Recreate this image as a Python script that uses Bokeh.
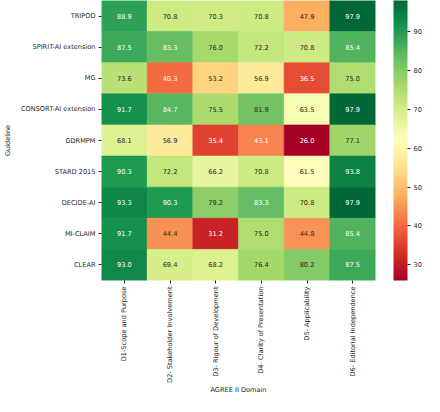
import numpy as np
from bokeh.plotting import figure
from bokeh.models import ColumnDataSource, LinearColorMapper, ColorBar, FixedTicker
from bokeh.transform import transform
from bokeh.core.properties import value
from bokeh.embed import file_html
from bokeh.resources import INLINE

guidelines = ["TRIPOD", "SPIRIT-AI extension", "MG", "CONSORT-AI extension", "GDRMPM",
              "STARD 2015", "DECIDE-AI", "MI-CLAIM", "CLEAR"]
domains = ["D1-Scope and Purpose", "D2- Stakeholder Involvement", "D3- Rigour of Development",
           "D4- Clarity of Presentation", "D5- Applicability", "D6- Editorial Independence"]
d1 = [88.9, 87.5, 73.6, 91.7, 68.1, 90.3, 93.3, 91.7, 93.0]
d2 = [70.8, 83.3, 40.3, 84.7, 56.9, 72.2, 90.3, 44.4, 69.4]
d3 = [70.3, 76.0, 53.2, 75.5, 35.4, 66.2, 79.2, 31.2, 68.2]
d4 = [70.8, 72.2, 56.9, 81.9, 43.1, 70.8, 83.3, 75.0, 76.4]
d5 = [47.9, 70.8, 36.5, 63.5, 26.0, 61.5, 70.8, 44.8, 80.2]
d6 = [97.9, 85.4, 75.0, 97.9, 77.1, 93.8, 97.9, 85.4, 87.5]
colorbar_ticks = [30, 40, 50, 60, 70, 80, 90]

columns = [d1, d2, d3, d4, d5, d6]

# RdYlGn colormap (matplotlib-style, 256 steps)
anchors = ['#a50026', '#d73027', '#f46d43', '#fdae61', '#fee08b', '#ffffbf',
           '#d9ef8b', '#a6d96a', '#66bd63', '#1a9850', '#006837']
anc = np.array([[int(h[i:i + 2], 16) / 255 for i in (1, 3, 5)] for h in anchors])
pos = np.linspace(0, 1, len(anchors))
t = np.linspace(0, 1, 256)
rgb = np.stack([np.interp(t, pos, anc[:, k]) for k in range(3)], axis=1)
palette = ['#%02x%02x%02x' % tuple(int(round(c * 255)) for c in row) for row in rgb]

all_vals = [v for col in columns for v in col]
lo, hi = min(all_vals), max(all_vals)


def text_color(v):
    idx = int((v - lo) / (hi - lo) * 256)
    idx = min(max(idx, 0), 255)
    c = rgb[idx]
    lin = np.where(c <= 0.03928, c / 12.92, ((c + 0.055) / 1.055) ** 2.4)
    lum = 0.2126 * lin[0] + 0.7152 * lin[1] + 0.0722 * lin[2]
    return "#262626" if lum > 0.408 else "#ffffff"


xs, ys, vals, labels, tcols = [], [], [], [], []
for j, dom in enumerate(domains):
    for i, g in enumerate(guidelines):
        v = columns[j][i]
        xs.append(dom)
        ys.append(g)
        vals.append(v)
        labels.append("%.1f" % v)
        tcols.append(text_color(v))

src = ColumnDataSource(dict(x=xs, y=ys, v=vals, label=labels, tcol=tcols))
mapper = LinearColorMapper(palette=palette, low=lo, high=hi)

FONT = "DejaVu Sans"
FS = "6.6px"

p = figure(x_range=domains, y_range=list(reversed(guidelines)), width=424, height=396,
           output_backend="svg", toolbar_location=None,
           min_border_left=4, min_border_top=0, min_border_bottom=0, min_border_right=0)
p.rect(x="x", y="y", width=1, height=1, source=src,
       fill_color=transform("v", mapper), line_color=transform("v", mapper), line_width=0.6)
p.text(x="x", y="y", text="label", source=src, text_color="tcol",
       text_align="center", text_baseline="middle",
       text_font=value(FONT), text_font_size=FS)

p.grid.grid_line_color = None
p.outline_line_color = None
for ax in (p.xaxis, p.yaxis):
    ax.axis_line_color = None
    ax.major_tick_in = 0
    ax.major_tick_out = 3
    ax.major_tick_line_color = "#262626"
    ax.major_label_text_font = FONT
    ax.major_label_text_font_size = FS
    ax.major_label_text_color = "#262626"
    ax.axis_label_text_font = FONT
    ax.axis_label_text_font_size = FS
    ax.axis_label_text_font_style = "normal"
    ax.axis_label_text_color = "#262626"
    ax.major_label_standoff = 3
p.xaxis.major_label_orientation = np.pi / 2
p.xaxis.axis_label = "AGREE II Domain"
p.yaxis.axis_label = "Guideline"
p.xaxis.axis_label_standoff = 0
p.yaxis.axis_label_standoff = 6

cb = ColorBar(color_mapper=mapper, width=14, ticker=FixedTicker(ticks=colorbar_ticks),
              major_tick_in=0, major_tick_out=3, major_tick_line_color="#262626",
              major_label_text_font=FONT, major_label_text_font_size=FS,
              major_label_text_color="#262626", label_standoff=3,
              bar_line_color=None, border_line_color=None, background_fill_alpha=0,
              padding=0, location=(18, 0))
p.add_layout(cb, "right")

open("out.html", "w").write(file_html(p, INLINE))
